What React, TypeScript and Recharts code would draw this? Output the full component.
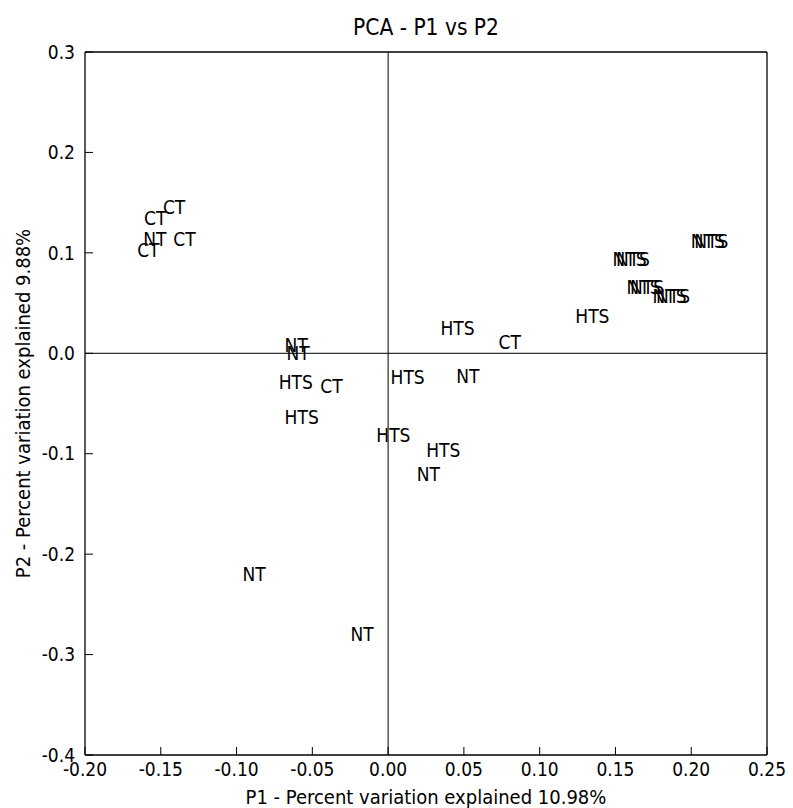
import React from 'react';
import { ScatterChart, Scatter, XAxis, YAxis, ReferenceLine, Label } from 'recharts';

const sampleLabels = [
  'CT', 'CT', 'NT', 'CT', 'CT',
  'NTS', 'NTS', 'NTS', 'NTS', 'NTS', 'NTS', 'NTS', 'NTS',
  'HTS', 'NT', 'NT', 'HTS', 'CT', 'HTS', 'HTS', 'CT', 'HTS', 'NT',
  'HTS', 'HTS', 'NT', 'NT', 'NT',
];
const p1Values = [
  -0.1486, -0.1610, -0.1616, -0.1656, -0.1418,
  0.1997, 0.2020, 0.1480, 0.1503, 0.1573, 0.1596, 0.1744, 0.1767,
  0.1235, -0.0683, -0.0671, -0.0722, -0.0447, -0.0683, 0.0345, 0.0729, 0.0016, 0.0449,
  -0.0078, 0.0251, 0.0189, -0.0961, -0.0248,
];
const p2Values = [
  0.1390, 0.1280, 0.1070, 0.0962, 0.1065,
  0.1049, 0.1049, 0.0866, 0.0866, 0.0591, 0.0591, 0.0498, 0.0498,
  0.0299, 0.0017, -0.0066, -0.0354, -0.0394, -0.0709, 0.0183, 0.0044, -0.0305, -0.0295,
  -0.0886, -0.1028, -0.1267, -0.2269, -0.2866,
];
const xTicks = [-0.2, -0.15, -0.1, -0.05, 0, 0.05, 0.1, 0.15, 0.2, 0.25];
const yTicks = [-0.4, -0.3, -0.2, -0.1, 0, 0.1, 0.2, 0.3];

const titleText = 'PCA - P1 vs P2';
const xLabelText = 'P1 - Percent variation explained 10.98%';
const yLabelText = 'P2 - Percent variation explained 9.88%';

const data = sampleLabels.map((label, i) => ({ x: p1Values[i], y: p2Values[i], label }));

const FONT = "'DejaVu Sans Condensed', 'DejaVu Sans', sans-serif";
const PLOT_TOP = 44;

const LabelShape = (props: any) => {
  const { cx, cy, payload } = props;
  return (
    <text x={cx} y={cy} textAnchor="start" fontFamily={FONT} fontSize={19} fill="#000">
      {payload.label}
    </text>
  );
};

const XLabelContent = (props: any) => {
  const vb = props.viewBox || { x: 77, y: 747, width: 683, height: 53 };
  const cx = vb.x + vb.width / 2;
  return (
    <g>
      <text x={cx} y={vb.y + 49} textAnchor="middle" fontFamily={FONT} fontSize={20} fill="#000">
        {xLabelText}
      </text>
      <text x={cx} y={PLOT_TOP - 17} textAnchor="middle" fontFamily={FONT} fontSize={22.5} fill="#000">
        {titleText}
      </text>
    </g>
  );
};

const YLabelContent = (props: any) => {
  const vb = props.viewBox || { x: 17, y: 44, width: 60, height: 703 };
  const x = vb.x + 4.5;
  const y = vb.y + vb.height / 2;
  return (
    <text x={x} y={y} textAnchor="middle" fontFamily={FONT} fontSize={20} fill="#000" transform={`rotate(-90, ${x}, ${y})`}>
      {yLabelText}
    </text>
  );
};

const tickStyle = { fontFamily: FONT, fontSize: 19, fill: '#000' };

export default function App() {
  return (
    <ScatterChart
      width={785}
      height={800}
      margin={{ top: PLOT_TOP - 1, right: 25, bottom: 0, left: 17 }}
      style={{ background: '#fff' }}
    >
      <XAxis
        xAxisId="b"
        type="number"
        dataKey="x"
        domain={[-0.2, 0.25]}
        ticks={xTicks}
        allowDataOverflow
        orientation="bottom"
        height={53}
        tickFormatter={(v: number) => v.toFixed(2)}
        tick={tickStyle}
        tickSize={-8}
        tickMargin={15.5}
        axisLine={{ stroke: '#000', strokeWidth: 1.3 }}
        tickLine={{ stroke: '#000', strokeWidth: 1 }}
        interval={0}
      >
        <Label content={XLabelContent} />
      </XAxis>
      <XAxis
        xAxisId="t"
        type="number"
        dataKey="x"
        domain={[-0.2, 0.25]}
        ticks={xTicks}
        allowDataOverflow
        orientation="top"
        height={1}
        tick={false}
        tickSize={-8}
        axisLine={{ stroke: '#000', strokeWidth: 1.3 }}
        tickLine={{ stroke: '#000', strokeWidth: 1 }}
        interval={0}
      />
      <YAxis
        yAxisId="l"
        type="number"
        dataKey="y"
        domain={[-0.4, 0.3]}
        ticks={yTicks}
        allowDataOverflow
        orientation="left"
        width={60}
        tickFormatter={(v: number) => v.toFixed(1)}
        tick={tickStyle}
        tickSize={-8}
        tickMargin={18}
        axisLine={{ stroke: '#000', strokeWidth: 1.3 }}
        tickLine={{ stroke: '#000', strokeWidth: 1 }}
        interval={0}
      >
        <Label content={YLabelContent} />
      </YAxis>
      <YAxis
        yAxisId="r"
        type="number"
        dataKey="y"
        domain={[-0.4, 0.3]}
        ticks={yTicks}
        allowDataOverflow
        orientation="right"
        width={1}
        tick={false}
        tickSize={-8}
        axisLine={{ stroke: '#000', strokeWidth: 1.3 }}
        tickLine={{ stroke: '#000', strokeWidth: 1 }}
        interval={0}
      />
      <ReferenceLine xAxisId="b" yAxisId="l" x={0} stroke="#000" strokeWidth={1} />
      <ReferenceLine xAxisId="b" yAxisId="l" y={0} stroke="#000" strokeWidth={1} />
      <Scatter
        xAxisId="b"
        yAxisId="l"
        data={data}
        shape={LabelShape}
        isAnimationActive={false}
      />
    </ScatterChart>
  );
}
